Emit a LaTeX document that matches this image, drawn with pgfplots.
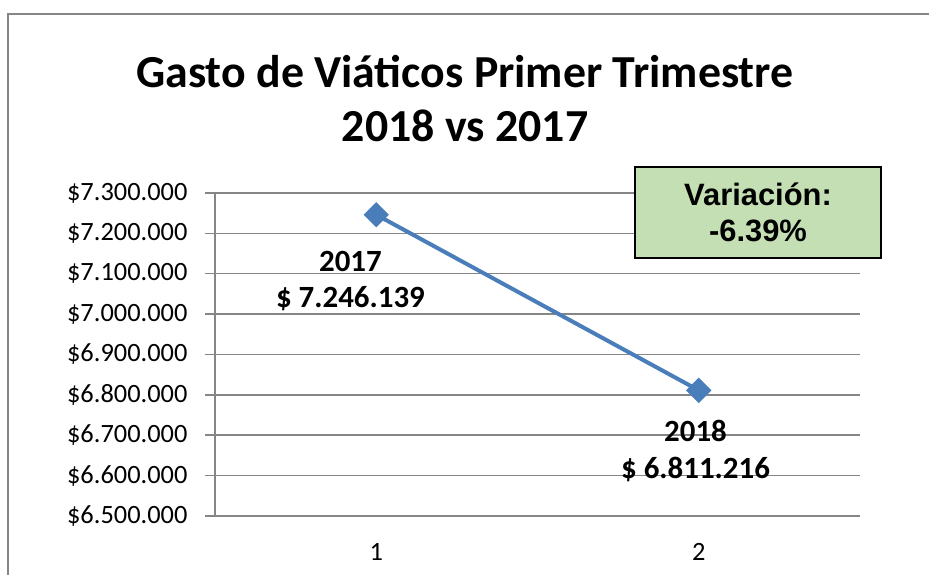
\documentclass[border=0pt]{standalone}
\usepackage{pgfplots}
\pgfplotsset{compat=1.18}
\usepackage{fontspec}
\setmainfont{Carlito}
\newfontfamily\arial{Liberation Sans}
\definecolor{serie}{HTML}{4A7EBB}
\definecolor{rejilla}{HTML}{868686}
\definecolor{verde}{HTML}{C4DFB3}
\begin{document}
\begin{tikzpicture}[x=1bp,y=1bp]
\useasboundingbox (0,0) rectangle (929,575);
\draw[rejilla, line width=2bp] (8,0) -- (8,561) -- (929,561);
\node[font=\bfseries\fontsize{46}{54}\selectfont, anchor=base] at (465,487) {Gasto de Viáticos Primer Trimestre};
\node[font=\bfseries\fontsize{46}{54}\selectfont, anchor=base] at (465,433) {2018 vs 2017};
\begin{axis}[
  at={(215bp,59bp)}, anchor=south west,
  scale only axis, width=645bp, height=323bp,
  xmin=0.5, xmax=2.5, ymin=6500000, ymax=7300000,
  xtick={1,2}, xticklabels={1,2},
  extra x ticks={0.5,1.5,2.5}, extra x tick labels={},
  extra x tick style={major tick length=8bp, tick style={rejilla, line width=1.2bp}},
  major x tick style={draw=none},
  ytick={6500000,6600000,6700000,6800000,6900000,7000000,7100000,7200000,7300000},
  yticklabels={\$6.500.000,\$6.600.000,\$6.700.000,\$6.800.000,\$6.900.000,\$7.000.000,\$7.100.000,\$7.200.000,\$7.300.000},
  scaled y ticks=false,
  ymajorgrids, grid style={rejilla, line width=1.5bp},
  axis x line*=bottom, axis y line*=left,
  axis line style={rejilla, line width=1.5bp, -},
  tick align=outside, major tick length=10bp,
  y tick style={rejilla, line width=1.5bp},
  ticklabel style={font=\fontsize{26.5}{30}\selectfont, text=black},
  yticklabel style={xshift=-14bp},
  xticklabel style={yshift=-14bp},
  clip=false,
]
\addplot[serie, line width=4bp, mark=square*, mark size=7bp, mark options={rotate=45, solid}]
  coordinates {(1,7246139) (2,6811216)};
\node[font=\bfseries\fontsize{31}{37}\selectfont, align=center] at (axis cs:0.92,7082000) {2017\\\$ 7.246.139};
\node[font=\bfseries\fontsize{31}{37}\selectfont, align=center] at (axis cs:1.99,6662000) {2018\\\$ 6.811.216};
\end{axis}
\node[draw=black, fill=verde, line width=1.5bp, minimum width=246bp, minimum height=91bp, inner sep=0pt, align=center, font=\arial\bfseries\fontsize{31}{36}\selectfont] at (758,362.5) {Variación:\\-6.39\%};
\end{tikzpicture}
\end{document}
